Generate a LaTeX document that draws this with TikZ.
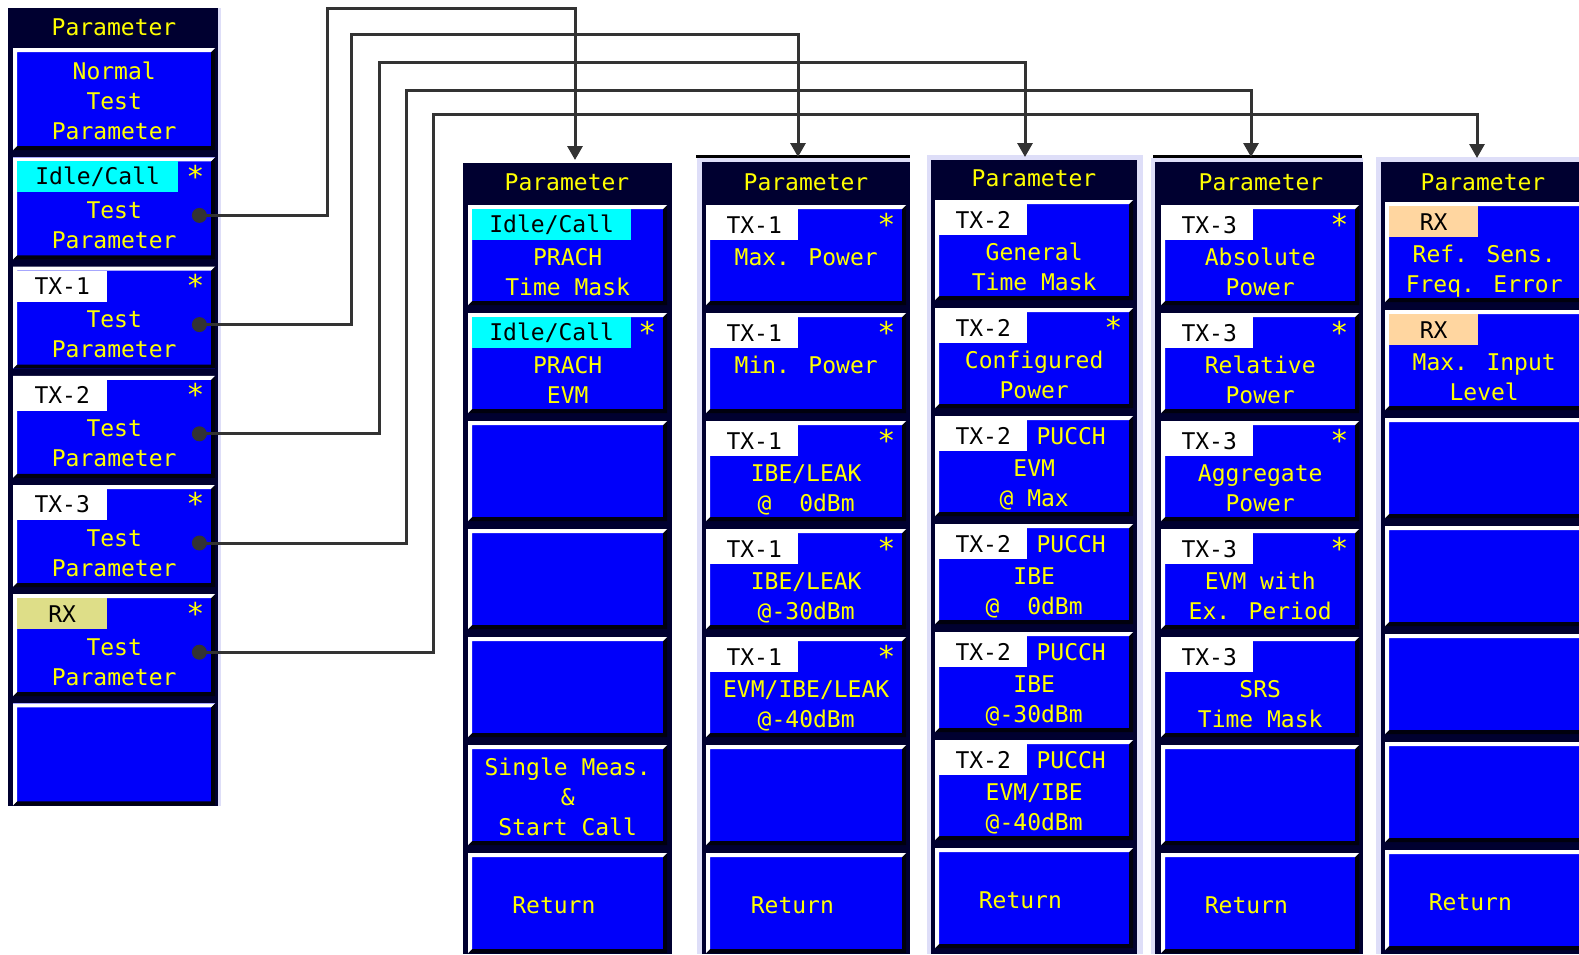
\documentclass[tikz,border=0pt]{standalone}
\usepackage{fontspec}
\usetikzlibrary{arrows.meta}

\newfontfamily\lcdfont{DejaVu Sans Mono}
\newcommand\lcdtext{\lcdfont\fontsize{23}{30}\selectfont}
\newcommand\klines[3]{\rule{0pt}{25pt}#1\\\strut#2\\\rule[-5pt]{0pt}{5pt}#3}

%Colors
\definecolor{panelnavy}{RGB}{0,0,48}
\definecolor{keyblue}{RGB}{0,0,250}
\definecolor{keyshade}{RGB}{0,0,14}
\definecolor{lcdyellow}{RGB}{255,255,0}
\definecolor{idlecyan}{RGB}{0,255,255}
\definecolor{rxkhaki}{RGB}{222,222,136}
\definecolor{rxpeach}{RGB}{255,214,160}
\definecolor{framelav}{RGB}{222,222,248}
\definecolor{linkgray}{RGB}{51,51,51}

\begin{document}
\begin{tikzpicture}
	[x=1pt,y=-1pt,
	%Styles
	hdr/.style={text=lcdyellow,font=\lcdtext,inner sep=0pt},
	softkey/.style={fill=keyblue,minimum width=#1,minimum height=100pt,inner sep=0pt,
		anchor=north west,align=center,text=lcdyellow,font=\lcdtext,
		path picture={
			\fill[white] (path picture bounding box.south west) |- (path picture bounding box.north east)
				-- ++(-4pt,-4pt) -| ([shift={(4pt,4pt)}]path picture bounding box.south west) -- cycle;
			\fill[keyshade] (path picture bounding box.north east) |- (path picture bounding box.south west)
				-- ++(4pt,4pt) -| ([shift={(-4pt,-4pt)}]path picture bounding box.north east) -- cycle;}},
	tagbox/.style={fill=#1,anchor=north west,minimum height=31pt,inner sep=0pt,text=black,font=\lcdtext},
	keystar/.style={text=lcdyellow,font=\lcdfont\fontsize{30}{30}\selectfont,inner sep=0pt},
	pucch/.style={text=lcdyellow,font=\lcdtext,inner sep=0pt,anchor=west},
	dot/.style={circle,fill=linkgray,minimum size=15pt,inner sep=0pt},
	link/.style={draw=linkgray,line width=3pt,-{Triangle[width=15pt,length=14pt]}}
	]

	\clip (0,0) rectangle (1579,954);
	\fill[white] (0,0) rectangle (1579,954);

	%Panels
	\fill[panelnavy] (8,8) rectangle (218,806);
	\fill[framelav] (218,8) rectangle (221,806);
	\fill[panelnavy] (463,163) rectangle (672,954);
	\fill[framelav] (697,158) rectangle (910,954);
	\fill[panelnavy] (702,162) rectangle (910,954);
	\draw[black,line width=3pt] (696,156) -- (910,156);
	\fill[framelav] (927,155) rectangle (1143,954);
	\fill[panelnavy] (931,160) rectangle (1137,954);
	\fill[framelav] (1151,158) rectangle (1363,954);
	\fill[panelnavy] (1155,162) rectangle (1363,954);
	\draw[black,line width=3pt] (1153,156) -- (1362,156);
	\fill[framelav] (1376,157) rectangle (1579,954);
	\fill[panelnavy] (1381,162) rectangle (1579,954);

	%Headers
	\node[hdr] (hdrL) at (114,27) {Parameter};
	\node[hdr] (hdrA) at (567,182) {Parameter};
	\node[hdr] (hdrB) at (806,182) {Parameter};
	\node[hdr] (hdrC) at (1034,178) {Parameter};
	\node[hdr] (hdrD) at (1261,182) {Parameter};
	\node[hdr] (hdrE) at (1483,182) {Parameter};

	%Soft keys
	\foreach \i/\txt in {1/{\klines{Normal}{Test}{Parameter}},2/{\klines{}{Test}{Parameter}},
		3/{\klines{}{Test}{Parameter}},4/{\klines{}{Test}{Parameter}},
		5/{\klines{}{Test}{Parameter}},6/{\klines{}{Test}{Parameter}},7/{}}
		\node[softkey=202pt,minimum height=102pt] (L\i) at (13,{48+109.2*(\i-1)}) {\txt};
	\foreach \i/\txt in {1/{\klines{}{PRACH}{Time Mask}},2/{\klines{}{PRACH}{EVM}},3/{},4/{},5/{},
		6/{\klines{Single Meas.}{\&}{Start Call}},7/{\klines{}{Return\hphantom{xx}}{}}}
		\node[softkey=199pt] (A\i) at (468,{205+108*(\i-1)}) {\txt};
	\foreach \i/\txt in {1/{\klines{}{Max. Power}{}},2/{\klines{}{Min. Power}{}},
		3/{\klines{}{IBE/LEAK}{@~~0dBm}},4/{\klines{}{IBE/LEAK}{@-30dBm}},
		5/{\klines{}{EVM/IBE/LEAK}{@-40dBm}},6/{},7/{\klines{}{Return\hphantom{xx}}{}}}
		\node[softkey=200pt] (B\i) at (706,{205+108*(\i-1)}) {\txt};
	\foreach \i/\txt in {1/{\klines{}{General}{Time Mask}},2/{\klines{}{Configured}{Power}},
		3/{\klines{}{EVM}{@ Max}},4/{\klines{}{IBE}{@~~0dBm}},5/{\klines{}{IBE}{@-30dBm}},
		6/{\klines{}{EVM/IBE}{@-40dBm}},7/{\klines{}{Return\hphantom{xx}}{}}}
		\node[softkey=198pt] (C\i) at (935,{200+108*(\i-1)}) {\txt};
	\foreach \i/\txt in {1/{\klines{}{Absolute}{Power}},2/{\klines{}{Relative}{Power}},
		3/{\klines{}{Aggregate}{Power}},4/{\klines{}{EVM with}{Ex. Period}},
		5/{\klines{}{SRS}{Time Mask}},6/{},7/{\klines{}{Return\hphantom{xx}}{}}}
		\node[softkey=198pt] (D\i) at (1161,{205+108*(\i-1)}) {\txt};
	\foreach \i/\txt in {1/{\klines{}{Ref. Sens.}{Freq. Error}},2/{\klines{}{Max. Input}{Level}},
		3/{},4/{},5/{},6/{},7/{\klines{}{Return\hphantom{xx}}{}}}
		\node[softkey=198pt] (E\i) at (1385,{202+108*(\i-1)}) {\txt};

	%Tags, stars
	\foreach \kk/\tagcol/\tagw/\tagtxt in {L2/idlecyan/161/{Idle/Call},L3/white/90/TX-1,L4/white/90/TX-2,
		L5/white/90/TX-3,L6/rxkhaki/90/RX,A1/idlecyan/159/{Idle/Call},A2/idlecyan/159/{Idle/Call},
		B1/white/88/TX-1,B2/white/88/TX-1,B3/white/88/TX-1,B4/white/88/TX-1,B5/white/88/TX-1,
		C1/white/88/TX-2,C2/white/88/TX-2,C3/white/88/TX-2,C4/white/88/TX-2,C5/white/88/TX-2,C6/white/88/TX-2,
		D1/white/88/TX-3,D2/white/88/TX-3,D3/white/88/TX-3,D4/white/88/TX-3,D5/white/88/TX-3,
		E1/rxpeach/89/RX,E2/rxpeach/89/RX}
		\node[tagbox=\tagcol,minimum width=\tagw pt] (t\kk) at ([shift={(4pt,-4pt)}]\kk.north west) {\tagtxt};
	\foreach \kk in {L2,L3,L4,L5,L6,A2,B1,B2,B3,B4,B5,C2,D1,D2,D3,D4}
		\node[keystar] (s\kk) at ([shift={(-20pt,-19pt)}]\kk.north east) {*};
	\foreach \kk in {C3,C4,C5,C6}
		\node[pucch] (p\kk) at ([xshift=9pt]t\kk.east) {PUCCH};

	%Links
	\coordinate (inA) at (575,160);
	\coordinate (inB) at (798,157);
	\coordinate (inC) at (1025,157);
	\coordinate (inD) at (1251,157);
	\coordinate (inE) at (1477,158);
	\foreach \i/\x/\y/\tgt in {2/327/8/inA,3/351/34/inB,4/379/62/inC,5/406/90/inD,6/433/114/inE}
		\draw[link] ([shift={(-16pt,-7pt)}]L\i.east) -| (\x,\y) -| (\tgt);
	\foreach \i in {2,...,6}
		\node[dot] (dot\i) at ([shift={(-16pt,-7pt)}]L\i.east) {};
\end{tikzpicture}
\end{document}
